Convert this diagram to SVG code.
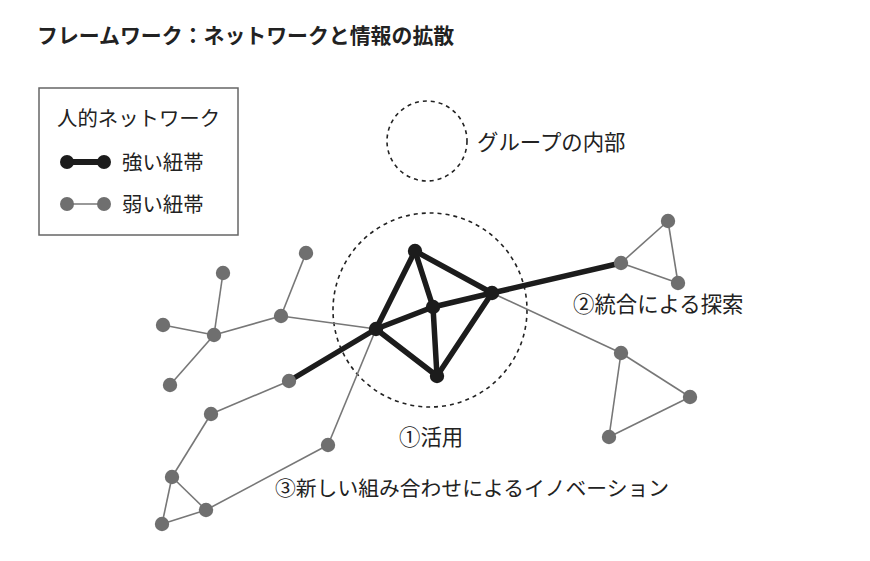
<svg xmlns="http://www.w3.org/2000/svg" width="870" height="561" viewBox="0 0 870 561">
<style>
text{font-family:"Noto Sans CJK JP","Noto Sans CJK SC",sans-serif;fill:#222}
.t{font-size:20.9px;font-weight:bold}
.l{font-size:21.4px}
.g{font-size:20.4px}
.s{stroke:#1c1c1c;stroke-width:5.5;stroke-linecap:round}
.w{stroke:#777;stroke-width:1.6}
.gn{fill:#6f6f6f}
.bn{fill:#1c1c1c}
.d{fill:none;stroke:#222;stroke-width:1.6;stroke-dasharray:4 4}
</style>
<rect width="870" height="561" fill="#fff"/>
<text class="t" x="37" y="43">フレームワーク：ネットワークと情報の拡散</text>
<g id="legend">
<rect x="39" y="88" width="199" height="147" fill="none" stroke="#666" stroke-width="1.5"/>
<text class="g" x="57" y="126">人的ネットワーク</text>
<line x1="67" y1="162" x2="104" y2="162" stroke="#1c1c1c" stroke-width="6"/>
<circle cx="67" cy="162" r="7" class="bn"/><circle cx="104" cy="162" r="7" class="bn"/>
<text class="g" x="122" y="170">強い紐帯</text>
<line x1="67" y1="204" x2="104" y2="204" stroke="#777" stroke-width="1.6"/>
<circle cx="67" cy="204" r="7" class="gn"/><circle cx="104" cy="204" r="7" class="gn"/>
<text class="g" x="122" y="212">弱い紐帯</text>
</g>
<g id="groups">
<circle class="d" cx="427" cy="141" r="40"/>
<circle class="d" cx="430" cy="310" r="97"/>
</g>
<g id="connectors">
<g class="w">
<line x1="223" y1="273" x2="214" y2="335"/>
<line x1="163" y1="325" x2="214" y2="335"/>
<line x1="170" y1="385" x2="214" y2="335"/>
<line x1="214" y1="335" x2="281" y2="316"/>
<line x1="306" y1="253" x2="281" y2="316"/>
<line x1="281" y1="316" x2="376" y2="329"/>
<line x1="376" y1="329" x2="328" y2="445"/>
<line x1="328" y1="445" x2="206" y2="510"/>
<line x1="206" y1="510" x2="162" y2="524"/>
<line x1="162" y1="524" x2="172" y2="477"/>
<line x1="172" y1="477" x2="206" y2="510"/>
<line x1="172" y1="477" x2="211" y2="414"/>
<line x1="211" y1="414" x2="289" y2="381"/>
<line x1="492" y1="293" x2="621" y2="353"/>
<line x1="621" y1="353" x2="690" y2="397"/>
<line x1="621" y1="353" x2="609" y2="437"/>
<line x1="609" y1="437" x2="690" y2="397"/>
<line x1="621" y1="263" x2="668" y2="221"/>
<line x1="668" y1="221" x2="678" y2="283"/>
<line x1="621" y1="263" x2="678" y2="283"/>
</g>
<g class="s">
<line x1="289" y1="381" x2="376" y2="329"/>
<line x1="376" y1="329" x2="415" y2="251"/>
<line x1="376" y1="329" x2="433" y2="307"/>
<line x1="376" y1="329" x2="437" y2="376"/>
<line x1="415" y1="251" x2="433" y2="307"/>
<line x1="415" y1="251" x2="492" y2="293"/>
<line x1="433" y1="307" x2="492" y2="293"/>
<line x1="433" y1="307" x2="437" y2="376"/>
<line x1="437" y1="376" x2="492" y2="293"/>
<line x1="492" y1="293" x2="621" y2="263"/>
</g>
</g>
<g id="nodes">
<g class="gn">
<circle id="n1" cx="223" cy="273" r="7.2"/>
<circle id="n2" cx="306" cy="253" r="7.2"/>
<circle id="n3" cx="163" cy="325" r="7.2"/>
<circle id="n4" cx="214" cy="335" r="7.2"/>
<circle id="n5" cx="281" cy="316" r="7.2"/>
<circle id="n6" cx="170" cy="385" r="7.2"/>
<circle id="n7" cx="289" cy="381" r="7.2"/>
<circle id="n8" cx="211" cy="414" r="7.2"/>
<circle id="n9" cx="328" cy="445" r="7.2"/>
<circle id="n10" cx="172" cy="477" r="7.2"/>
<circle id="n11" cx="206" cy="510" r="7.2"/>
<circle id="n12" cx="162" cy="524" r="7.2"/>
<circle id="n13" cx="668" cy="221" r="7.2"/>
<circle id="n14" cx="621" cy="263" r="7.2"/>
<circle id="n15" cx="678" cy="283" r="7.2"/>
<circle id="n16" cx="621" cy="353" r="7.2"/>
<circle id="n17" cx="690" cy="397" r="7.2"/>
<circle id="n18" cx="609" cy="437" r="7.2"/>
</g>
<g class="bn">
<circle id="b1" cx="376" cy="329" r="7.2"/>
<circle id="b2" cx="415" cy="251" r="7.2"/>
<circle id="b3" cx="433" cy="307" r="7.2"/>
<circle id="b4" cx="492" cy="293" r="7.2"/>
<circle id="b5" cx="437" cy="376" r="7.2"/>
</g>
</g>
<g id="labels">
<text class="l" x="477" y="150">グループの内部</text>
<text class="l" x="573" y="312">②統合による探索</text>
<text class="l" x="399" y="445">①活用</text>
<text class="l" x="275" y="496" style="font-size:20.8px">③新しい組み合わせによるイノベーション</text>
</g>
</svg>
